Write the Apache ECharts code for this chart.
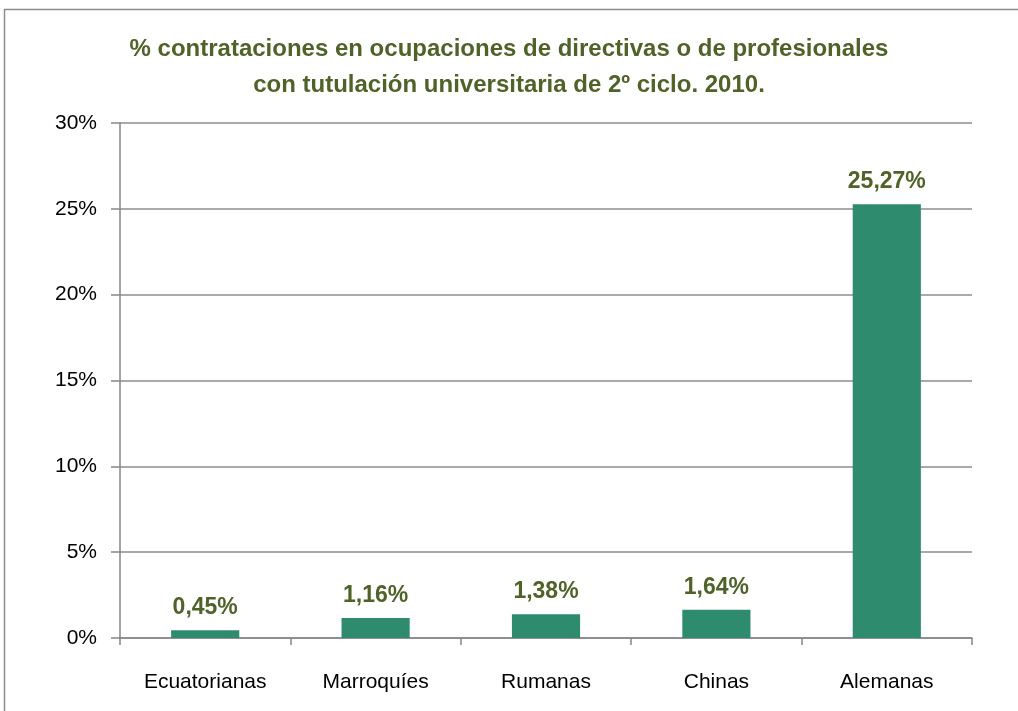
<!DOCTYPE html>
<html>
<head>
<meta charset="utf-8">
<script src="https://cdn.jsdelivr.net/npm/echarts@6/dist/echarts.min.js"></script>
<style>
  html, body { margin: 0; padding: 0; background: #fff; }
  #chart { width: 1018px; height: 711px; }
</style>
</head>
<body>
<div id="chart"></div>
<script>
// datos
const categories = ['Ecuatorianas', 'Marroquíes', 'Rumanas', 'Chinas', 'Alemanas']
const values = [0.45, 1.16, 1.38, 1.64, 25.27]
const yTicks = [0, 5, 10, 15, 20, 25, 30]

const font = '"Liberation Sans", Arial, sans-serif'
const chart = echarts.init(document.getElementById('chart'))

chart.setOption({
  animation: false,
  graphic: [
    // marco exterior del grafico
    { type: 'rect', shape: { x: 4.5, y: 9.5, width: 1030, height: 720 },
      style: { fill: 'none', stroke: '#8c8c8c', lineWidth: 1.5 }, silent: true }
  ],
  title: {
    text: '% contrataciones en ocupaciones de directivas o de profesionales\ncon tutulación universitaria de 2º ciclo. 2010.',
    left: 'center',
    top: 26,
    textStyle: {
      color: '#4f6228',
      fontFamily: font,
      fontWeight: 'bold',
      fontSize: 24,
      lineHeight: 36
    }
  },
  grid: { left: 120, right: 46, top: 123, bottom: 73 },
  xAxis: {
    type: 'category',
    data: categories,
    axisLine: { lineStyle: { color: '#868686', width: 1.5 } },
    axisTick: { show: true, length: 7, lineStyle: { color: '#868686', width: 1.5 } },
    axisLabel: { color: '#000', fontFamily: font, fontSize: 21, margin: 34 }
  },
  yAxis: {
    type: 'value',
    min: yTicks[0],
    max: yTicks[yTicks.length - 1],
    interval: 5,
    axisLine: { show: true, lineStyle: { color: '#868686', width: 1.5 } },
    axisTick: { show: true, length: 9, lineStyle: { color: '#868686', width: 1.5 } },
    axisLabel: { color: '#000', fontFamily: font, fontSize: 21, margin: 23, formatter: '{value}%' },
    splitLine: { lineStyle: { color: '#8c8c8c', width: 1.5 } }
  },
  series: [
    {
      type: 'bar',
      data: values,
      barWidth: '40%',
      itemStyle: { color: '#2e8b6e' },
      label: {
        show: true,
        position: 'top',
        distance: 11,
        color: '#4f6228',
        fontFamily: font,
        fontWeight: 'bold',
        fontSize: 23,
        formatter: p => p.value.toFixed(2).replace('.', ',') + '%'
      }
    }
  ]
})
</script>
</body>
</html>
